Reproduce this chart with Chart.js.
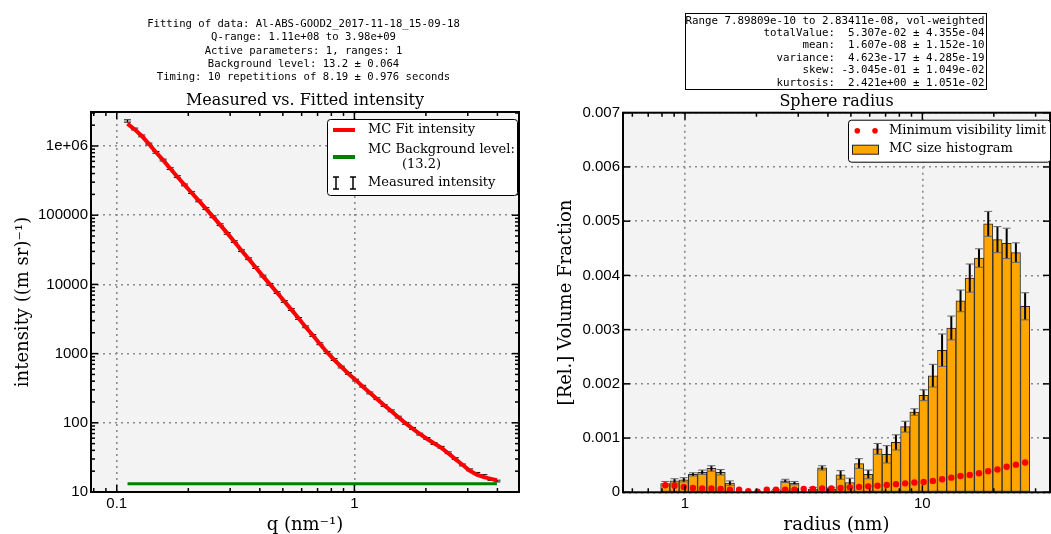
<!DOCTYPE html>
<html>
<head>
<meta charset="utf-8">
<script src="https://cdn.jsdelivr.net/npm/chart.js@4.4.1/dist/chart.umd.min.js"></script>
<style>
  html, body { margin: 0; padding: 0; background: #fff; }
  #wrap { position: relative; width: 1051px; height: 534px; overflow: hidden; }
  .panel { position: absolute; top: 0; }
  #left { left: 0; }
  #right { left: 540px; }
</style>
</head>
<body>
<div id="wrap">
  <div class="panel" id="left"><canvas id="fitChart" width="521" height="534"></canvas></div>
  <div class="panel" id="right"><canvas id="histChart" width="511" height="534"></canvas></div>
</div>
<script>
// ---- scattering curve (q in 1/nm) ----
const fitHeader = [
  'Fitting of data: Al-ABS-GOOD2_2017-11-18_15-09-18',
  'Q-range: 1.11e+08 to 3.98e+09',
  'Active parameters: 1, ranges: 1',
  'Background level: 13.2 \u00b1 0.064',
  'Timing: 10 repetitions of 8.19 \u00b1 0.976 seconds'
];
const qValues = [
  0.1109, 0.1189, 0.1274, 0.1365, 0.1462, 0.1567, 0.1679, 0.1799, 0.1928, 0.2065,
  0.2213, 0.2371, 0.2541, 0.2723, 0.2917, 0.3126, 0.3350, 0.3589, 0.3846, 0.4121,
  0.4416, 0.4732, 0.5070, 0.5433, 0.5821, 0.6237, 0.6683, 0.7161, 0.7674, 0.8222,
  0.8810, 0.9441, 1.0116, 1.0839, 1.1614, 1.2445, 1.3335, 1.4289, 1.5311, 1.6406,
  1.7579, 1.8836, 2.0184, 2.1627, 2.3174, 2.4831, 2.6607, 2.8510, 3.0549, 3.2734,
  3.5075, 3.7584, 3.9811
];
const fitIntensity = [
  2.109e6, 1.738e6, 1.396e6, 1.072e6, 8.13e5, 6.24e5, 4.73e5, 3.59e5, 2.75e5, 2.11e5,
  1.62e5, 1.245e5, 9.55e4, 7.24e4, 5.50e4, 4.12e4, 3.09e4, 2.34e4, 1.76e4, 1.318e4,
  1.0e4, 7590, 5690, 4315, 3236, 2427, 1841, 1380, 1047, 813,
  646, 513, 417, 335, 272, 221, 180, 148, 120, 98.9,
  82.2, 69.2, 58.9, 50.7, 43.7, 36.3, 29.9, 24.8, 20.4, 17.8,
  16.4, 15.5, 14.8
];
const measuredIntensity = [
  2.30e6, 1.76e6, 1.40e6, 1.07e6, 8.10e5, 6.27e5, 4.71e5, 3.61e5, 2.74e5, 2.12e5,
  1.61e5, 1.25e5, 9.49e4, 7.30e4, 5.46e4, 4.15e4, 3.07e4, 2.35e4, 1.75e4, 1.32e4,
  9980, 7620, 5670, 4330, 3220, 2440, 1830, 1390, 1040, 820,
  640, 518, 414, 338, 270, 223, 178, 149, 121, 98.2,
  82.9, 68.7, 59.5, 50.2, 44.3, 36.9, 30.4, 24.6, 20.9, 18.6,
  17.3, 15.2, 14.4
];
const measuredError = [
  9.0e4, 5.3e4, 4.2e4, 3.2e4, 2.4e4, 1.9e4, 1.4e4, 1.1e4, 8.2e3, 6.4e3,
  4.8e3, 3.8e3, 2.8e3, 2.2e3, 1.6e3, 1.2e3, 920, 700, 525, 396,
  300, 229, 170, 130, 97, 73, 55, 42, 31, 25,
  19, 15.5, 12.4, 10.1, 8.1, 6.7, 5.3, 4.5, 3.6, 2.9,
  2.5, 2.1, 1.8, 1.5, 1.3, 1.1, 0.9, 0.74, 0.63, 0.56,
  0.52, 0.46, 0.43
];
const backgroundLevel = 13.2;
const backgroundRange = [0.111, 3.98];
const qTicks = [0.1, 1];
const qTickLabels = ['0.1', '1'];
const intensityTicks = [10, 100, 1000, 10000, 100000, 1000000];
const intensityTickLabels = ['10', '100', '1000', '10000', '100000', '1e+06'];

// ---- size distribution (radius in nm) ----
const statsLines = [
  'Range 7.89809e-10 to 2.83411e-08, vol-weighted',
  'totalValue:  5.307e-02 \u00b1 4.355e-04',
  'mean:  1.607e-08 \u00b1 1.152e-10',
  'variance:  4.623e-17 \u00b1 4.285e-19',
  'skew: -3.045e-01 \u00b1 1.049e-02',
  'kurtosis:  2.421e+00 \u00b1 1.051e-02'
];
const radiusBins = [
  0.8258, 0.9034, 0.9879, 1.0803, 1.1816, 1.2921, 1.4132, 1.5455, 1.6902, 1.8485,
  2.0215, 2.2109, 2.4179, 2.6443, 2.8920, 3.1626, 3.4588, 3.7827, 4.1369, 4.5243,
  4.9480, 5.4113, 5.9180, 6.4722, 7.0783, 7.7411, 8.4660, 9.2588, 10.1245, 11.0729,
  12.1100, 13.2440, 14.4842, 15.8405, 17.3239, 18.9461, 20.7203, 22.6606, 24.7826, 27.1033
];
const volumeFraction = [
  0.00016, 0.00021, 0.00023, 0.00033, 0.00037, 0.00044, 0.00037, 0.00017, 0, 0,
  0, 0, 0.00003, 0.00021, 0.00017, 0, 0.00006, 0.00045, 0.00006, 0.00032,
  0.00018, 0.00053, 0.00033, 0.00080, 0.00070, 0.00092, 0.00121, 0.00148, 0.00179, 0.00215,
  0.00262, 0.00303, 0.00353, 0.00395, 0.00432, 0.00495, 0.00466, 0.00459, 0.00442, 0.00343
];
const volumeError = [
  0.00004, 0.00004, 0.00004, 0.00003, 0.00004, 0.00005, 0.00005, 0.00004, 0, 0,
  0, 0, 0.00002, 0.00003, 0.00003, 0, 0.00003, 0.00004, 0.00003, 0.00008,
  0.00008, 0.00009, 0.00008, 0.00010, 0.00016, 0.00014, 0.00010, 0.00006, 0.00010, 0.00021,
  0.00030, 0.00022, 0.00020, 0.00026, 0.00017, 0.00023, 0.00024, 0.00028, 0.00018, 0.00025
];
const visibilityLimit = [
  0.00013, 0.00012, 0.00010, 0.00008, 0.00007, 0.00007, 0.00006, 0.00005, 0.00005, 0.00002,
  0.00001, 0.00005, 0.00005, 0.00005, 0.00005, 0.00006, 0.00006, 0.00007, 0.00007, 0.00008,
  0.00009, 0.00010, 0.00011, 0.00012, 0.000135, 0.00015, 0.000165, 0.00018, 0.00019, 0.00021,
  0.00024, 0.00027, 0.00030, 0.00032, 0.00035, 0.00039, 0.00042, 0.00047, 0.00051, 0.00055
];
const radiusTicks = [1, 10];
const radiusTickLabels = ['1', '10'];
const fractionTicks = [0, 0.001, 0.002, 0.003, 0.004, 0.005, 0.006, 0.007];
const fractionTickLabels = ['0', '0.001', '0.002', '0.003', '0.004', '0.005', '0.006', '0.007'];

const SERIF = '"DejaVu Serif", serif';
const SANS = '"Liberation Sans", Arial, sans-serif';
const MONO = '"DejaVu Sans Mono", monospace';

function fixedTicks(values) {
  return scale => { scale.ticks = values.map(v => ({ value: v })); };
}

// fixed box size for an axis, without the extra room Chart.js keeps for edge labels
function fixedBox(size) {
  return scale => {
    if (scale.isHorizontal()) scale.height = size; else scale.width = size;
    scale.paddingLeft = scale.paddingRight = scale.paddingTop = scale.paddingBottom = 0;
  };
}

function logMinorTicks(min, max) {
  const out = [];
  for (let e = Math.floor(Math.log10(min)); e <= Math.ceil(Math.log10(max)); e++) {
    for (let m = 2; m <= 9; m++) {
      const v = m * Math.pow(10, e);
      if (v > min && v < max) out.push(v);
    }
  }
  return out;
}

function line(ctx, x1, y1, x2, y2) {
  ctx.beginPath();
  ctx.moveTo(x1, y1);
  ctx.lineTo(x2, y2);
  ctx.stroke();
}

// grey plot background, black frame and inward ticks on all four sides
const axesFrame = {
  id: 'axesFrame',
  beforeDraw(chart) {
    const { ctx, chartArea: a } = chart;
    ctx.save();
    ctx.fillStyle = '#f3f3f3';
    ctx.fillRect(a.left, a.top, a.right - a.left, a.bottom - a.top);
    ctx.restore();
  },
  afterDatasetsDraw(chart) {
    const { ctx, chartArea: a, scales: { x, y } } = chart;
    ctx.save();
    ctx.strokeStyle = '#000';
    ctx.lineWidth = 1.5;
    const tickX = (v, len) => {
      const px = x.getPixelForValue(v);
      line(ctx, px, a.bottom, px, a.bottom - len);
      line(ctx, px, a.top, px, a.top + len);
    };
    const tickY = (v, len) => {
      const py = y.getPixelForValue(v);
      line(ctx, a.left, py, a.left + len, py);
      line(ctx, a.right, py, a.right - len, py);
    };
    x.ticks.forEach(t => tickX(t.value, 7));
    y.ticks.forEach(t => tickY(t.value, 7));
    if (x.type === 'logarithmic') logMinorTicks(x.min, x.max).forEach(v => tickX(v, 4));
    if (y.type === 'logarithmic') logMinorTicks(y.min, y.max).forEach(v => tickY(v, 4));
    ctx.lineWidth = 2;
    ctx.strokeRect(a.left, a.top, a.right - a.left, a.bottom - a.top);
    ctx.restore();
  }
};

// vertical error bars with caps, read from dataset.errorValues
const errorBars = {
  id: 'errorBars',
  afterDatasetDraw(chart, args) {
    const ds = chart.data.datasets[args.index];
    if (!ds.errorValues) return;
    const st = ds.errorStyle;
    const { ctx, chartArea: a } = chart;
    const yScale = chart.scales[args.meta.yAxisID];
    ctx.save();
    ctx.beginPath();
    ctx.rect(a.left, a.top, a.right - a.left, a.bottom - a.top);
    ctx.clip();
    args.meta.data.forEach((el, i) => {
      const err = ds.errorValues[i];
      if (!err) return;
      const v = ds.data[i].y;
      const hi = yScale.getPixelForValue(v + err);
      const lo = yScale.getPixelForValue(Math.max(v - err, yScale.min));
      ctx.strokeStyle = st.color;
      ctx.lineWidth = st.width;
      line(ctx, el.x, hi, el.x, lo);
      ctx.strokeStyle = st.capColor;
      ctx.lineWidth = 1;
      line(ctx, el.x - st.cap, hi, el.x + st.cap, hi);
      line(ctx, el.x - st.cap, lo, el.x + st.cap, lo);
    });
    ctx.restore();
  }
};

function errorGlyph(ctx, x, y1, y2) {
  line(ctx, x, y1, x, y2);
  line(ctx, x - 3, y1, x + 3, y1);
  line(ctx, x - 3, y2, x + 3, y2);
}

// header text, title and legend of the intensity panel
const fitAnnotations = {
  id: 'fitAnnotations',
  afterDraw(chart) {
    const { ctx, chartArea: a } = chart;
    const cx = (a.left + a.right) / 2;
    ctx.save();
    ctx.fillStyle = '#000';
    ctx.textAlign = 'center';
    ctx.textBaseline = 'middle';
    ctx.font = '10.6px ' + MONO;
    fitHeader.forEach((t, i) => ctx.fillText(t, cx - 1.5, 24 + i * 13.4));
    ctx.font = '16px ' + SERIF;
    ctx.fillText('Measured vs. Fitted intensity', cx, a.top - 11);

    const bx = a.right - 192, by = a.top + 7;
    ctx.beginPath();
    ctx.roundRect(bx + 0.5, by + 0.5, 190, 76, 3);
    ctx.fillStyle = '#fff';
    ctx.fill();
    ctx.strokeStyle = '#000';
    ctx.lineWidth = 1;
    ctx.stroke();

    ctx.lineWidth = 4;
    ctx.strokeStyle = '#ff0000';
    line(ctx, bx + 6, by + 11, bx + 28, by + 11);
    ctx.strokeStyle = '#008000';
    line(ctx, bx + 6, by + 38, bx + 28, by + 38);
    ctx.strokeStyle = '#000';
    ctx.lineWidth = 1.5;
    errorGlyph(ctx, bx + 9, by + 58, by + 70);
    errorGlyph(ctx, bx + 26, by + 58, by + 70);

    ctx.fillStyle = '#000';
    ctx.textAlign = 'left';
    ctx.font = '13px ' + SERIF;
    ctx.fillText('MC Fit intensity', bx + 41, by + 11);
    ctx.fillText('MC Background level:', bx + 41, by + 31);
    ctx.fillText('(13.2)', bx + 75, by + 45.5);
    ctx.fillText('Measured intensity', bx + 41, by + 64);
    ctx.restore();
  }
};

// statistics box, title and legend of the size panel
const histAnnotations = {
  id: 'histAnnotations',
  afterDraw(chart) {
    const { ctx, chartArea: a } = chart;
    const cx = (a.left + a.right) / 2;
    ctx.save();
    ctx.strokeStyle = '#000';
    ctx.lineWidth = 1;
    ctx.fillStyle = '#fff';
    ctx.fillRect(145.5, 13.5, 301, 76);
    ctx.strokeRect(145.5, 13.5, 301, 76);
    ctx.fillStyle = '#000';
    ctx.textAlign = 'right';
    ctx.textBaseline = 'middle';
    ctx.font = '10.8px ' + MONO;
    statsLines.forEach((t, i) => ctx.fillText(t, 444.5, 20.7 + i * 12.4));

    ctx.textAlign = 'center';
    ctx.font = '16px ' + SERIF;
    ctx.fillText('Sphere radius', cx, a.top - 11);

    const bx = a.right - 202, by = a.top + 7;
    ctx.beginPath();
    ctx.roundRect(bx + 0.5, by + 0.5, 202, 42, 3);
    ctx.fillStyle = '#fff';
    ctx.fill();
    ctx.stroke();

    ctx.fillStyle = '#ff0000';
    [bx + 9.3, bx + 27].forEach(px => {
      ctx.beginPath();
      ctx.arc(px, by + 11, 2.8, 0, Math.PI * 2);
      ctx.fill();
    });
    ctx.fillStyle = '#ffa500';
    ctx.fillRect(bx + 4.5, by + 25.5, 26, 9);
    ctx.strokeStyle = '#222';
    ctx.strokeRect(bx + 4.5, by + 25.5, 26, 9);

    ctx.fillStyle = '#000';
    ctx.textAlign = 'left';
    ctx.font = '13px ' + SERIF;
    ctx.fillText('Minimum visibility limit', bx + 41, by + 11);
    ctx.fillText('MC size histogram', bx + 41, by + 29);
    ctx.restore();
  }
};

function axisStyle(extra) {
  return Object.assign({
    offset: false,
    grid: { color: '#8a8a8a', lineWidth: 1.6, drawTicks: false, tickLength: 0, offset: false },
    border: { display: false, dash: [2, 4] },
    ticks: { color: '#000', font: { family: SANS, size: 15 }, autoSkip: false, maxRotation: 0, minRotation: 0, padding: 3 }
  }, extra);
}

new Chart(document.getElementById('fitChart'), {
  type: 'line',
  data: {
    datasets: [
      {
        label: 'MC Fit intensity',
        data: qValues.map((q, i) => ({ x: q, y: fitIntensity[i] })),
        borderColor: '#ff0000',
        borderWidth: 4,
        pointRadius: 0,
        order: 1
      },
      {
        label: 'MC Background level',
        data: backgroundRange.map(q => ({ x: q, y: backgroundLevel })),
        borderColor: '#008000',
        borderWidth: 3,
        pointRadius: 0,
        order: 2
      },
      {
        label: 'Measured intensity',
        data: qValues.map((q, i) => ({ x: q, y: measuredIntensity[i] })),
        showLine: false,
        pointRadius: 0,
        errorValues: measuredError,
        errorStyle: { color: '#000', capColor: '#111', width: 1.2, cap: 3.5 },
        order: 3
      }
    ]
  },
  options: {
    responsive: false,
    animation: false,
    events: [],
    layout: { autoPadding: false, padding: { top: 112, right: 2, left: 0, bottom: 0 } },
    plugins: { legend: { display: false }, tooltip: { enabled: false } },
    scales: {
      x: axisStyle({
        type: 'logarithmic',
        min: 0.0779,
        max: 4.93,
        bounds: 'data',
        afterFit: fixedBox(42),
        afterBuildTicks: fixedTicks(qTicks),
        ticks: { color: '#000', font: { family: SANS, size: 15 }, autoSkip: false, maxRotation: 0, padding: 3,
                 callback: (v, i) => qTickLabels[i] },
        title: { display: true, text: 'q (nm\u207b\u00b9)', color: '#000',
                 font: { family: SERIF, size: 18, lineHeight: 1 }, padding: { top: 0, bottom: 0 } }
      }),
      y: axisStyle({
        type: 'logarithmic',
        min: 10,
        max: 3.1e6,
        bounds: 'data',
        afterFit: fixedBox(91),
        afterBuildTicks: fixedTicks(intensityTicks),
        ticks: { color: '#000', font: { family: SANS, size: 15 }, autoSkip: false, padding: 3,
                 callback: (v, i) => intensityTickLabels[i] },
        title: { display: true, text: 'intensity ((m sr)\u207b\u00b9)', color: '#000',
                 font: { family: SERIF, size: 18, lineHeight: 1 }, padding: { top: 14, bottom: 0 } }
      })
    }
  },
  plugins: [axesFrame, errorBars, fitAnnotations]
});

new Chart(document.getElementById('histChart'), {
  type: 'bar',
  data: {
    datasets: [
      {
        type: 'line',
        label: 'Minimum visibility limit',
        data: radiusBins.map((r, i) => ({ x: r, y: visibilityLimit[i] })),
        showLine: false,
        pointRadius: 3.2,
        pointBackgroundColor: '#ff0000',
        pointBorderWidth: 0,
        order: 1
      },
      {
        label: 'MC size histogram',
        data: radiusBins.map((r, i) => ({ x: r, y: volumeFraction[i] })),
        backgroundColor: '#ffa500',
        borderColor: '#2b2b2b',
        borderWidth: 1,
        borderSkipped: false,
        barPercentage: 1,
        categoryPercentage: 1,
        errorValues: volumeError,
        errorStyle: { color: '#000', capColor: '#666', width: 2, cap: 4 },
        order: 2
      }
    ]
  },
  options: {
    responsive: false,
    animation: false,
    events: [],
    layout: { autoPadding: false, padding: { top: 112.7, right: 1, left: 0, bottom: 0 } },
    plugins: { legend: { display: false }, tooltip: { enabled: false } },
    scales: {
      x: axisStyle({
        type: 'logarithmic',
        min: 0.548,
        max: 34.5,
        bounds: 'data',
        afterFit: fixedBox(41.7),
        afterBuildTicks: fixedTicks(radiusTicks),
        ticks: { color: '#000', font: { family: SANS, size: 15 }, autoSkip: false, maxRotation: 0, padding: 3,
                 callback: (v, i) => radiusTickLabels[i] },
        title: { display: true, text: 'radius (nm)', color: '#000',
                 font: { family: SERIF, size: 18, lineHeight: 1 }, padding: { top: 0, bottom: 0 } }
      }),
      y: axisStyle({
        type: 'linear',
        min: 0,
        max: 0.007,
        afterFit: fixedBox(83),
        afterBuildTicks: fixedTicks(fractionTicks),
        ticks: { color: '#000', font: { family: SANS, size: 15 }, autoSkip: false, padding: 3,
                 callback: (v, i) => fractionTickLabels[i] },
        title: { display: true, text: '[Rel.] Volume Fraction', color: '#000',
                 font: { family: SERIF, size: 18, lineHeight: 1 }, padding: { top: 17, bottom: 0 } }
      })
    }
  },
  plugins: [axesFrame, errorBars, histAnnotations]
});
</script>
</body>
</html>
